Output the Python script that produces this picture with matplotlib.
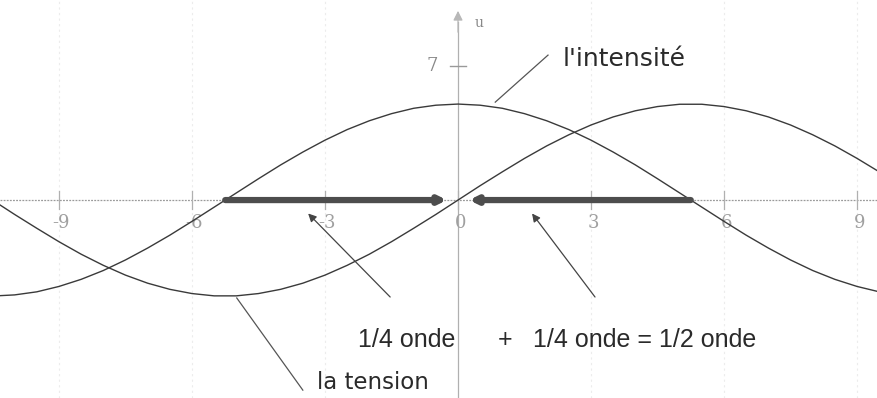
import matplotlib.pyplot as plt

# valeurs (pas de 0.5 en x)
x_vals = [-10.5, -10, -9.5, -9, -8.5, -8, -7.5, -7, -6.5, -6, -5.5, -5, -4.5, -4,
          -3.5, -3, -2.5, -2, -1.5, -1, -0.5, 0, 0.5, 1, 1.5, 2, 2.5, 3,
          3.5, 4, 4.5, 5, 5.5, 6, 6.5, 7, 7.5, 8, 8.5, 9, 9.5, 10]
intensite = [-5.00, -4.94, -4.78, -4.50, -4.13, -3.67, -3.12, -2.50, -1.83, -1.11, -0.37, 0.37,
             1.11, 1.83, 2.50, 3.12, 3.67, 4.13, 4.50, 4.78, 4.94, 5.00, 4.94, 4.78,
             4.50, 4.13, 3.67, 3.12, 2.50, 1.83, 1.11, 0.37, -0.37, -1.11, -1.83, -2.50,
             -3.12, -3.67, -4.13, -4.50, -4.78, -4.94]
tension = [0.00, -0.75, -1.47, -2.17, -2.82, -3.40, -3.91, -4.33, -4.65, -4.87, -4.99, -4.99,
           -4.87, -4.65, -4.33, -3.91, -3.40, -2.82, -2.17, -1.47, -0.75, 0.00, 0.75, 1.47,
           2.17, 2.82, 3.40, 3.91, 4.33, 4.65, 4.87, 4.99, 4.99, 4.87, 4.65, 4.33,
           3.91, 3.40, 2.82, 2.17, 1.47, 0.75]

x_ticks = [-9, -6, -3, 0, 3, 6, 9]
x_labels = ['-9', '-6', '-3', '0', '3', '6', '9']
y_tick = 7

# quarts d'onde (debut, fin)
quart1 = (-5.25, -0.25)
quart2 = (5.25, 0.25)

fig = plt.figure(figsize=(8.77, 3.98), dpi=100)
ax = fig.add_axes([0, 0, 1, 1])
ax.set_xlim(-10.33, 9.45)
ax.set_ylim(-10.31, 10.42)
ax.axis('off')

# grille verticale tres pale
for t in x_ticks:
    if t != 0:
        ax.axvline(t, color='#ececec', lw=0.8, ls=(0, (2, 3)), zorder=0)

# axes
ax.axhline(0, color='#9a9a9a', lw=0.9, ls=(0, (1.5, 1)), zorder=1)
ax.plot([0, 0], [-10.4, 9.3], color='#b0b0b0', lw=0.9, zorder=1)
ax.annotate('', xy=(0, 10.0), xytext=(0, 8.6),
            arrowprops=dict(arrowstyle='-|>', color='#b8b8b8', lw=0.9,
                            mutation_scale=14))
ax.text(0.38, 9.2, 'u', color='#888888', fontsize=10, family='DejaVu Serif',
        ha='left', va='center')

for t, lab in zip(x_ticks, x_labels):
    ax.plot([t, t], [-0.45, 0.45], color='#b0b0b0', lw=0.9, zorder=1)
    ax.text(t + 0.05, -1.2, lab, color='#a0a0a0', fontsize=13,
            family='DejaVu Serif', ha='center', va='center')
ax.plot([-0.18, 0.18], [y_tick, y_tick], color='#999999', lw=1.0)
ax.text(-0.45, y_tick, str(y_tick), color='#888888', fontsize=13,
        family='DejaVu Serif', ha='right', va='center')

# courbes
ax.plot(x_vals, intensite, color='#3a3a3a', lw=1.0, zorder=3)
ax.plot(x_vals, tension, color='#3a3a3a', lw=1.0, zorder=3)

# quarts d'onde en trait epais
ax.annotate('', xy=(quart1[1], 0), xytext=(quart1[0], 0),
            arrowprops=dict(arrowstyle='-|>', color='#4d4d4d', lw=4.5,
                            mutation_scale=10, shrinkA=0, shrinkB=0), zorder=4)
ax.annotate('', xy=(quart2[1], 0), xytext=(quart2[0], 0),
            arrowprops=dict(arrowstyle='-|>', color='#4d4d4d', lw=4.5,
                            mutation_scale=10, shrinkA=0, shrinkB=0), zorder=4)

# legendes
ax.plot([0.84, 2.03], [5.10, 7.55], color='#555555', lw=0.9)
ax.text(2.35, 7.0, "l'intensité", fontsize=18, color='#2a2a2a',
        family='DejaVu Sans', ha='left', va='baseline')

ax.plot([-4.99, -3.50], [-5.1, -9.9], color='#555555', lw=0.9)
ax.text(-3.17, -9.85, 'la tension', fontsize=16.5, color='#2a2a2a',
        family='DejaVu Sans', ha='left', va='baseline')

ax.annotate('', xy=(-3.38, -0.7), xytext=(-1.53, -5.05),
            arrowprops=dict(arrowstyle='-|>', color='#444444', lw=0.9,
                            mutation_scale=12, shrinkA=0, shrinkB=0))
ax.annotate('', xy=(1.67, -0.7), xytext=(3.09, -5.05),
            arrowprops=dict(arrowstyle='-|>', color='#444444', lw=0.9,
                            mutation_scale=12, shrinkA=0, shrinkB=0))

ax.text(-2.26, -7.66, '1/4 onde', fontsize=18, color='#2a2a2a',
        family='Liberation Sans', ha='left', va='baseline')
ax.text(1.06, -7.66, '+', fontsize=18, color='#2a2a2a',
        family='Liberation Sans', ha='center', va='baseline')
ax.text(1.69, -7.66, '1/4 onde = 1/2 onde', fontsize=18, color='#2a2a2a',
        family='Liberation Sans', ha='left', va='baseline')

fig.savefig('out.png', dpi=100, facecolor='white')
